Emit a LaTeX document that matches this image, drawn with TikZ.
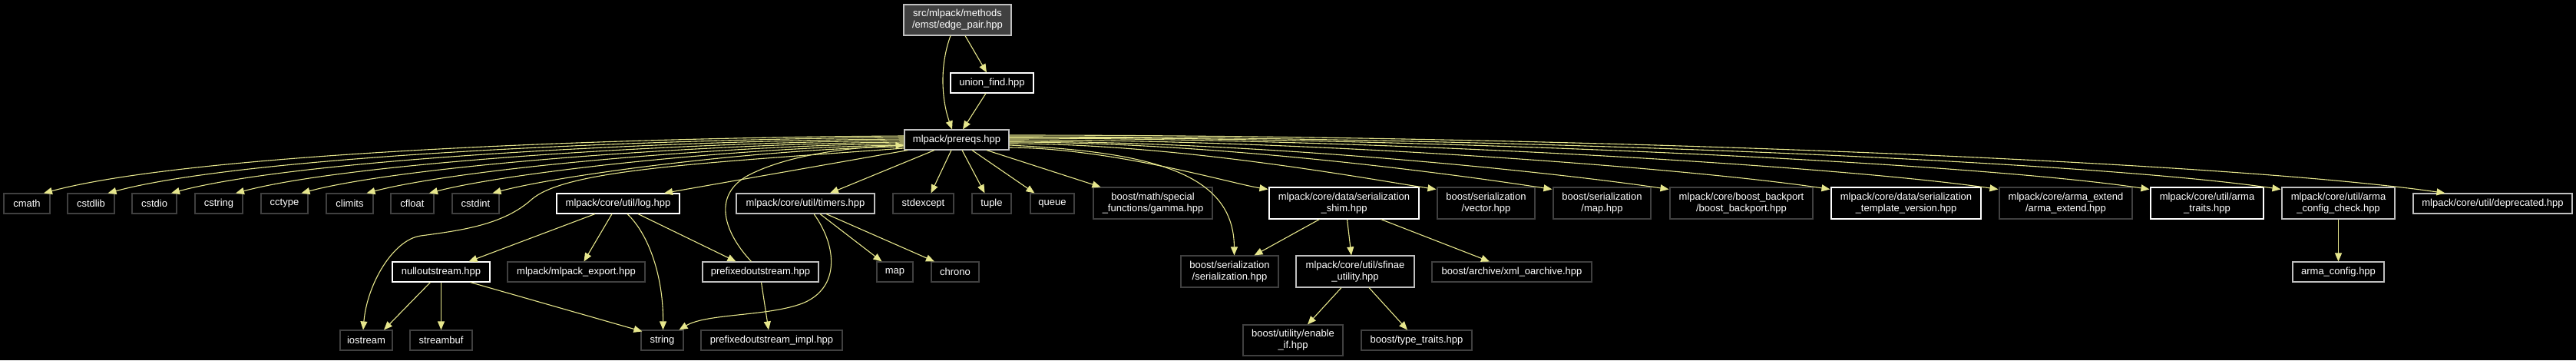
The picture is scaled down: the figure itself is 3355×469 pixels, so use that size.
\documentclass[tikz,border=0pt]{standalone}
\usepackage{fontspec}
\setmainfont{Liberation Sans}
\usetikzlibrary{arrows.meta}
\definecolor{edgec}{RGB}{230,230,140}
\definecolor{dimb}{RGB}{64,64,64}
\definecolor{litb}{RGB}{191,191,191}
\definecolor{epfill}{RGB}{64,64,64}
\begin{document}
\begin{tikzpicture}[x=1pt,y=-1pt,
  nb/.style={draw=dimb, line width=1.1pt, rectangle, inner sep=0pt, minimum height=26pt, text=white, font=\fontsize{13}{15}\selectfont, align=center},
  wb/.style={nb, draw=white},
  gb/.style={nb, draw=litb},
  tall/.style={minimum height=41pt},
  ed/.style={draw=edgec, line width=1.1pt, -{Triangle[length=11pt,width=9pt]}}
]
\fill[black] (0,0) rectangle (3355,469);
\useasboundingbox (0,0) rectangle (3355,469);

% row 1-2
\node[gb, fill=epfill, tall, minimum width=140pt, minimum height=40pt] (ep) at (1247,26) {src/mlpack/methods\\/emst/edge\_pair.hpp};
\node[wb, minimum width=108pt] (uf) at (1292,108) {union\_find.hpp};
\node[gb, minimum width=136pt] (pre) at (1246,182) {mlpack/prereqs.hpp};

% row 3
\node[nb, minimum width=60pt] (cmath) at (35,265) {cmath};
\node[nb, minimum width=61pt] (cstdlib) at (118.5,265) {cstdlib};
\node[nb, minimum width=58pt] (cstdio) at (201,265) {cstdio};
\node[nb, minimum width=62pt] (cstring) at (285,265) {cstring};
\node[nb, minimum width=61pt] (cctype) at (370.5,265) {cctype};
\node[nb, minimum width=61pt] (climits) at (455.5,265) {climits};
\node[nb, minimum width=56pt] (cfloat) at (537,265) {cfloat};
\node[nb, minimum width=61pt] (cstdint) at (619.5,265) {cstdint};
\node[wb, minimum width=160pt] (log) at (805,265) {mlpack/core/util/log.hpp};
\node[gb, minimum width=180pt] (timers) at (1049,265) {mlpack/core/util/timers.hpp};
\node[nb, minimum width=79pt] (stdexcept) at (1202.5,265) {stdexcept};
\node[nb, minimum width=51pt] (tuple) at (1291.5,265) {tuple};
\node[nb, minimum width=57pt] (queue) at (1370.5,265) {queue};
\node[nb, tall, minimum width=155pt] (gamma) at (1501.5,264.5) {boost/math/special\\\_functions/gamma.hpp};
\node[wb, tall, minimum width=195pt] (shim) at (1750.5,264.5) {mlpack/core/data/serialization\\\_shim.hpp};
\node[nb, tall, minimum width=127pt] (vector) at (1935.5,264.5) {boost/serialization\\/vector.hpp};
\node[nb, tall, minimum width=127pt] (maphpp) at (2086.5,264.5) {boost/serialization\\/map.hpp};
\node[nb, tall, minimum width=186pt] (backport) at (2268,264.5) {mlpack/core/boost\_backport\\/boost\_backport.hpp};
\node[wb, tall, minimum width=195pt] (template) at (2482.5,264.5) {mlpack/core/data/serialization\\\_template\_version.hpp};
\node[nb, tall, minimum width=173pt] (armaext) at (2690.5,264.5) {mlpack/core/arma\_extend\\/arma\_extend.hpp};
\node[wb, tall, minimum width=147pt] (armatraits) at (2874.5,264.5) {mlpack/core/util/arma\\\_traits.hpp};
\node[gb, tall, minimum width=147pt] (armacc) at (3045.5,264.5) {mlpack/core/util/arma\\\_config\_check.hpp};
\node[gb, minimum width=207pt] (dep) at (3246.5,265) {mlpack/core/util/deprecated.hpp};

% row 4
\node[wb, minimum width=127pt] (nullout) at (574.5,354) {nulloutstream.hpp};
\node[nb, minimum width=179pt] (export) at (750.5,354) {mlpack/mlpack\_export.hpp};
\node[gb, minimum width=151pt] (prefixed) at (990.5,354) {prefixedoutstream.hpp};
\node[nb, minimum width=47pt] (map) at (1165.5,354) {map};
\node[nb, minimum width=62pt] (chrono) at (1244,354) {chrono};
\node[nb, tall, minimum width=127pt] (serial) at (1601.5,353.5) {boost/serialization\\/serialization.hpp};
\node[gb, tall, minimum width=154pt] (sfinae) at (1765,353.5) {mlpack/core/util/sfinae\\\_utility.hpp};
\node[nb, minimum width=208pt] (xml) at (1969,354) {boost/archive/xml\_oarchive.hpp};
\node[gb, minimum width=119pt] (armaconfig) at (3045.5,354) {arma\_config.hpp};

% row 5
\node[nb, minimum width=68pt] (iostream) at (477,443) {iostream};
\node[nb, minimum width=81pt] (streambuf) at (574.5,443) {streambuf};
\node[nb, minimum width=55pt] (string) at (862.5,443) {string};
\node[nb, minimum width=184pt] (pimpl) at (1005,443) {prefixedoutstream\_impl.hpp};
\node[nb, tall, minimum width=130pt, minimum height=40pt] (enable) at (1684,443) {boost/utility/enable\\\_if.hpp};
\node[nb, minimum width=144pt] (tt) at (1845,443) {boost/type\_traits.hpp};

% edges from edge_pair and union_find
\draw[ed] ([xshift=-9pt]ep.south) .. controls (1222,90) and (1228,135) .. ([xshift=-6pt]pre.north);
\draw[ed] ([xshift=10pt]ep.south) -- ([xshift=-7pt]uf.north);
\draw[ed] ([xshift=-8pt]uf.south) -- ([xshift=8pt]pre.north);

% prereqs to left row
\draw[ed] ([yshift=5pt]pre.west) .. controls (797,179) and (248,200) .. ([xshift=22pt]cmath.north);
\draw[ed] ([yshift=3pt]pre.west) .. controls (825,181) and (317,204) .. ([xshift=22pt]cstdlib.north);
\draw[ed] ([yshift=1pt]pre.west) .. controls (853,183) and (385,208) .. ([xshift=22pt]cstdio.north);
\draw[ed] ([yshift=-1pt]pre.west) .. controls (882,185) and (455,212) .. ([xshift=22pt]cstring.north);
\draw[ed] ([yshift=-3pt]pre.west) .. controls (911,187) and (526,216) .. ([xshift=22pt]cctype.north);
\draw[ed] ([yshift=-5pt]pre.west) .. controls (940,189) and (597,220) .. ([xshift=22pt]climits.north);
\draw[ed] ([yshift=-7pt]pre.west) .. controls (968,191) and (664,224) .. ([xshift=22pt]cfloat.north);
\draw[ed] ([yshift=-9pt]pre.west) .. controls (996,193) and (733,227) .. ([xshift=22pt]cstdint.north);
\draw[ed] ([yshift=-11pt]pre.west) .. controls (900,213) and (735,222) .. (692,260)
  .. controls (655,293) and (600,300) .. (548,307)
  .. controls (512,312) and (478,370) .. ([xshift=-4pt]iostream.north);
\draw[ed] ([xshift=5pt]pre.south west) -- ([xshift=60pt]log.north);
\draw[ed] ([xshift=-29pt]pre.south) -- ([xshift=32pt]timers.north);
\draw[ed] ([xshift=-7pt]pre.south) -- ([xshift=10pt]stdexcept.north);
\draw[ed] ([xshift=7pt]pre.south) -- ([xshift=-9pt]tuple.north);
\draw[ed] ([xshift=20pt]pre.south) -- ([xshift=-23pt]queue.north);
\draw[ed] ([xshift=39pt]pre.south) -- ([xshift=-68pt]gamma.north);

% prereqs to right row
\draw[ed] ([yshift=-10pt]pre.east) .. controls (1450,193) and (1604,239) .. ([xshift=-1pt,yshift=-3pt]shim.north west);
\draw[ed] ([yshift=-7pt]pre.east) .. controls (1500,198) and (1607,225) .. ([xshift=6pt]serial.north);
\draw[ed] ([yshift=-5pt]pre.east) .. controls (1537,187) and (1787,234) .. ([xshift=-1pt,yshift=-3pt]vector.north west);
\draw[ed] ([yshift=-3pt]pre.east) .. controls (1597,185) and (1915,230) .. ([xshift=-1pt,yshift=-3pt]maphpp.north west);
\draw[ed] ([yshift=-2pt]pre.east) .. controls (1658,184) and (2044,227) .. ([xshift=-1pt,yshift=-3pt]backport.north west);
\draw[ed] (pre.east) .. controls (1742,182) and (2223,222) .. ([xshift=-1pt,yshift=-3pt]template.north west);
\draw[ed] ([yshift=2pt]pre.east) .. controls (1829,180) and (2409,218) .. ([xshift=-1pt,yshift=-3pt]armaext.north west);
\draw[ed] ([yshift=3pt]pre.east) .. controls (1908,179) and (2577,213) .. ([xshift=-1pt,yshift=-3pt]armatraits.north west);
\draw[ed] ([yshift=4pt]pre.east) .. controls (1977,178) and (2722,210) .. ([xshift=-1pt,yshift=-3pt]armacc.north west);
\draw[ed] ([yshift=6pt]pre.east) .. controls (2062,176) and (2904,211) .. ([xshift=42pt]dep.north west);

% log.hpp
\draw[ed] ([xshift=-30pt]log.south) -- ([xshift=36pt]nullout.north);
\draw[ed] ([xshift=-8pt]log.south) -- ([xshift=10pt]export.north);
\draw[ed] ([xshift=12pt]log.south) .. controls (845,305) and (864,360) .. ([xshift=1pt]string.north);
\draw[ed] ([xshift=26pt]log.south) -- ([xshift=-32pt]prefixed.north);

% nulloutstream
\draw[ed] ([xshift=-14pt]nullout.south) -- ([xshift=23pt]iostream.north);
\draw[ed] (nullout.south) -- (streambuf.north);
\draw[ed] ([xshift=38pt]nullout.south) -- ([xshift=2pt,yshift=-2pt]string.north west);

% prefixedoutstream
\draw[ed] ([xshift=-12pt]prefixed.north) .. controls (945,305) and (925,255) .. (975,228)
  .. controls (1030,200) and (1110,192) .. ([yshift=-7pt]pre.west);
\draw[ed] ([xshift=1pt]prefixed.south) -- ([xshift=-4pt]pimpl.north);

% timers
\draw[ed] ([xshift=19pt]timers.south) -- ([xshift=-17pt]map.north);
\draw[ed] ([xshift=27pt]timers.south) -- ([xshift=-27pt]chrono.north);
\draw[ed] ([xshift=11pt]timers.south) .. controls (1090,320) and (1095,375) .. (1045,395)
  .. controls (1000,412) and (920,408) .. ([xshift=22pt]string.north);

% serialization shim
\draw[ed] ([xshift=-32pt]shim.south) -- ([xshift=32pt]serial.north);
\draw[ed] ([xshift=4pt]shim.south) -- ([xshift=-5pt]sfinae.north);
\draw[ed] ([xshift=48pt]shim.south) -- ([xshift=-29pt]xml.north);

% sfinae
\draw[ed] ([xshift=-18pt]sfinae.south) -- ([xshift=19pt]enable.north);
\draw[ed] ([xshift=18pt]sfinae.south) -- ([xshift=-12pt]tt.north);

% arma config
\draw[ed] (armacc.south) -- (armaconfig.north);
\end{tikzpicture}
\end{document}
